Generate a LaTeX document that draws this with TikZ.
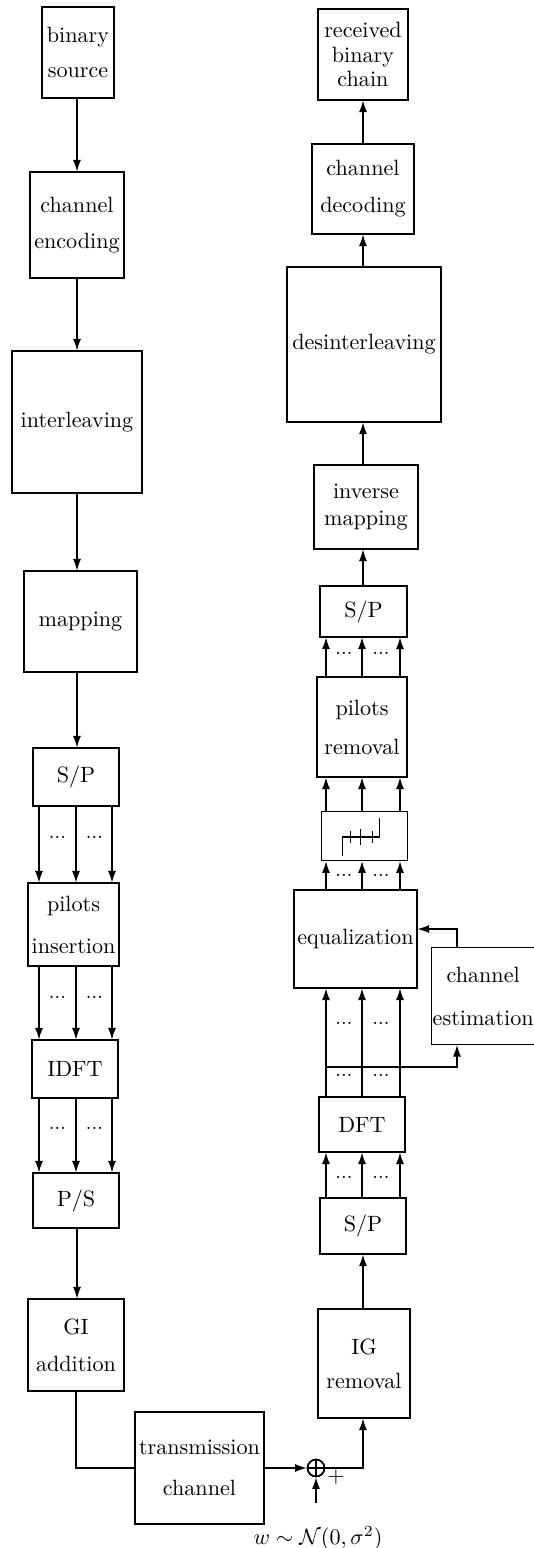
\documentclass[tikz,border=0pt]{standalone}
\usetikzlibrary{arrows.meta}
\begin{document}
\begin{tikzpicture}[x=0.452pt, y=-0.452pt, line width=0.5pt, >={Latex[length=5.2pt,width=3.6pt]},
    blk/.style 2 args={draw, align=center, inner sep=0pt, minimum width=#1*0.452pt, minimum height=#2*0.452pt},
    dotsn/.style={inner sep=0pt, font=\small}]
    \useasboundingbox (0,0) rectangle (534,1548);
    % transmitter
    \node[blk={72}{91}] (src) at (78,52.5) {binary\\[3.8pt]source};
    \node[blk={94}{106}] (enc) at (77,225) {channel\\[4.3pt]encoding};
    \node[blk={130}{142}] (intl) at (77,422) {interleaving};
    \node[blk={113}{101}] (map) at (80.5,621.5) {mapping};
    \node[blk={86}{58}] (sp1) at (76,777) {S/P};
    \node[blk={91}{83}] (pil) at (73.5,924.5) {pilots\\[7pt]insertion};
    \node[blk={86}{58}] (idft) at (75,1069) {IDFT};
    \node[blk={86}{55}] (ps) at (76,1200.5) {P/S};
    \node[blk={96}{92}] (gi) at (76,1345) {GI\\[4.7pt]addition};
    % channel
    \node[blk={129}{112}] (ch) at (199.5,1468) {transmission\\[6.3pt]channel};
    \node[circle, draw, line width=0.8pt, inner sep=0pt, minimum size=17*0.452pt] (add) at (316,1468) {};
    \draw[line width=0.8pt] (add.north) -- (add.south) (add.west) -- (add.east);
    \node (plus) at (336,1477) {$+$};
    \node (noise) at (318,1538) {$w\sim\mathcal{N}(0,\sigma^2)$};
    \coordinate (nz) at (316,1503);
    % receiver
    \node[blk={92}{109}] (ig) at (364,1363.5) {IG\\[3.4pt]removal};
    \node[blk={86}{56}] (sp2) at (363,1226) {S/P};
    \node[blk={86}{55}] (dft) at (362,1124.5) {DFT};
    \node[blk={123}{98}] (eq) at (355.5,939) {equalization};
    \node[blk={103.6}{97}] (est) at (483.2,996) {channel\\[7.4pt]estimation};
    \node[blk={85.6}{49.4}] (stair) at (364.5,836) {};
    \node[blk={90}{100}] (prm) at (362,727) {pilots\\[5.6pt]removal};
    \node[blk={87}{51}] (sp3) at (363.5,611.5) {S/P};
    \node[blk={104}{84}] (invmap) at (366,507) {inverse\\mapping};
    \node[blk={154}{155}] (desint) at (364,344.5) {desinterleaving};
    \node[blk={102}{90}] (chdec) at (363,189) {channel\\[4.7pt]decoding};
    \node[blk={90}{91}] (recv) at (363,54.5) {received\\[-0.9pt]binary\\[-0.9pt]chain};
    % staircase symbol
    \draw ([shift={(-22,20)}]stair.center) -- ++(0,-19) -- ++(37,0) -- ++(0,-19);
    \foreach \d/\h in {-14/6,-4/8,8/6}
        \draw ([shift={(\d,1-\h)}]stair.center) -- ++(0,2*\h);
    % connections
    \foreach \a/\b in {src/enc, enc/intl, intl/map, map/sp1}
        \draw[->] (77,0 |- \a.south) -- (77,0 |- \b.north);
    \foreach \a/\b in {sp1/pil, pil/idft, idft/ps}
        \foreach \x in {39,76,112}
            \draw[->] (\x,0 |- \a.south) -- (\x,0 |- \b.north);
    \draw[->] (77,0 |- ps.south) -- (77,0 |- gi.north);
    \draw (gi.south) |- (ch.west);
    \draw[->] (ch.east) -- (add.west);
    \draw[->] (nz) -- (add.south);
    \draw[->] (add.east) -| (363,0 |- ig.south);
    \draw[->] (363,0 |- ig.north) -- (363,0 |- sp2.south);
    \foreach \a/\b in {sp2/dft, dft/eq, eq/stair, stair/prm, prm/sp3}
        \foreach \x in {326,362,400}
            \draw[->] (\x,0 |- \a.north) -- (\x,0 |- \b.south);
    \coordinate (tap) at (326,1067);
    \draw[->] (tap) -| (457,0 |- est.south);
    \draw[->] (457,0 |- est.north) |- (eq.east |- 0,929);
    \foreach \a/\b in {sp3/invmap, invmap/desint, desint/chdec, chdec/recv}
        \draw[->] (363,0 |- \a.north) -- (363,0 |- \b.south);
    % dots between parallel lines
    \foreach \n/\x/\y in {a/76/837, b/76/997, c/76/1128, d/362.5/1177, e/362.5/1075, f/362.5/1023, g/362.5/875, h/362.5/653} {
        \node[dotsn] (dots\n1) at (\x-18.5,\y) {...};
        \node[dotsn] (dots\n2) at (\x+18.5,\y) {...};
    }
\end{tikzpicture}
\end{document}
